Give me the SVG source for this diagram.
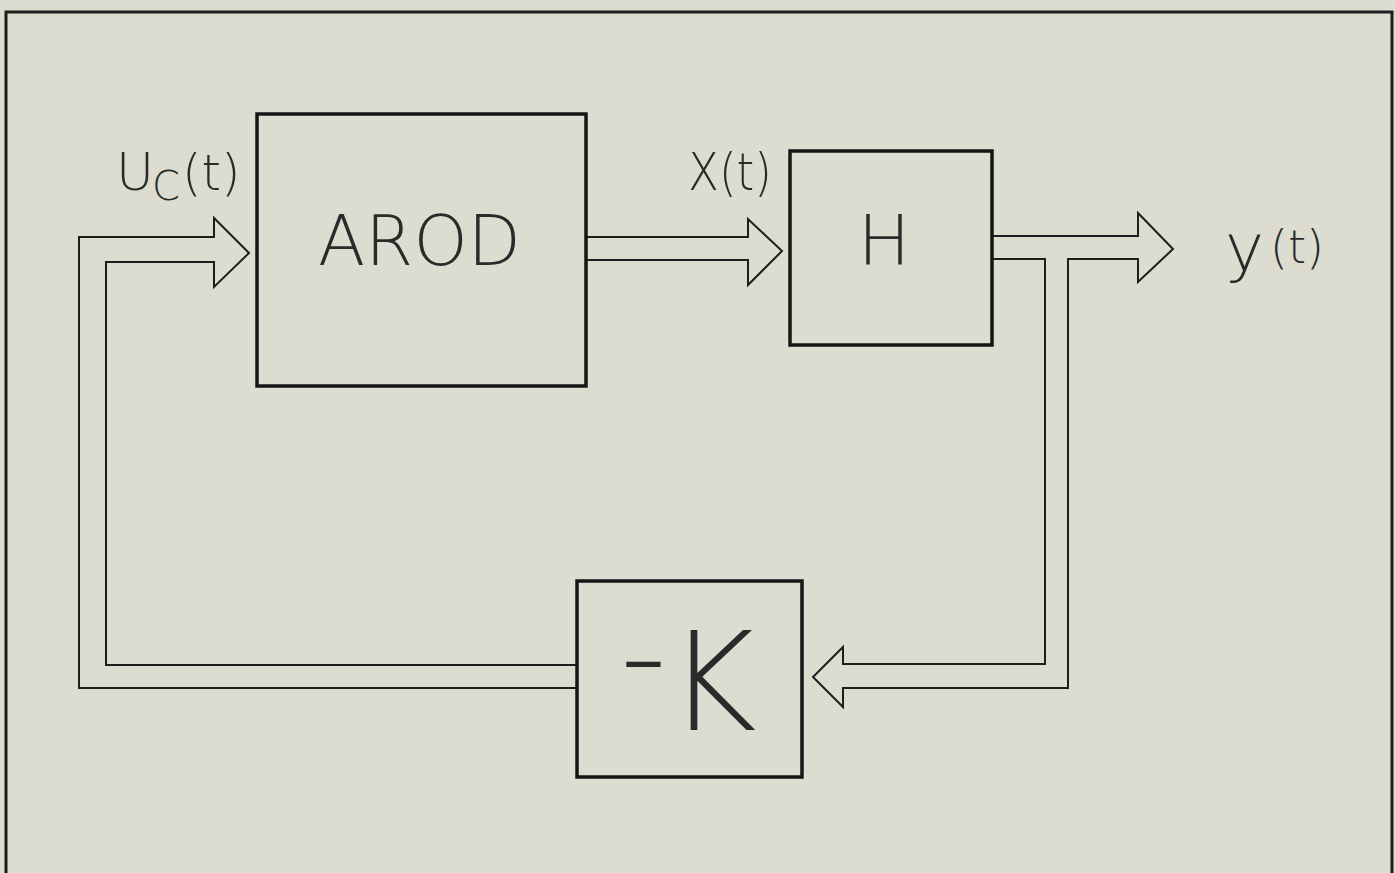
<svg xmlns="http://www.w3.org/2000/svg" width="1395" height="873" viewBox="0 0 1395 873">
<style>
.bg{fill:#dcdcd0}
.frame{fill:none;stroke:#1e1e1e;stroke-width:3}
.box{fill:none;stroke:#151515;stroke-width:3.5}
.wire{fill:none;stroke:#1e1e1e;stroke-width:2;stroke-linejoin:miter}
.lbl{font-family:"DejaVu Sans","Liberation Sans",sans-serif;font-weight:200;fill:#2a2a2a}
</style>
<rect class="bg" x="0" y="0" width="1395" height="873"/>
<path class="frame" d="M6,873 V12 H1392 V873"/>

<g id="connectors">
  <!-- feedback -K to AROD input -->
  <path class="wire" d="M578,688 H79 V237 H214 V218 L249,253 L214,287 V262 H106 V665 H578"/>
  <!-- AROD to H -->
  <path class="wire" d="M586,237 H748 V219 L782,251 L748,285 V260 H586"/>
  <!-- H output y(t) with branch to -K -->
  <path class="wire" d="M992,236 H1138 V213 L1173,249 L1138,282 V259 H1068 V688 H843 V707 L813,677 L843,647 V664 H1045 V259 H992"/>
</g>

<g id="arod">
  <rect class="box" x="257" y="114" width="329" height="272"/>
  <text class="lbl" x="318" y="265" font-size="69" textLength="203" lengthAdjust="spacing">AROD</text>
</g>

<g id="h">
  <rect class="box" x="790" y="151" width="202" height="194"/>
  <text class="lbl" x="884" y="265" font-size="70" text-anchor="middle">H</text>
</g>

<g id="negk">
  <rect class="box" x="577" y="581" width="225" height="196"/>
  <text class="lbl"><tspan x="620" y="700" font-size="130">-</tspan><tspan x="667" y="730" font-size="137">K</tspan></text>
</g>

<g id="labels">
  <text class="lbl"><tspan x="116" y="190" font-size="52">U</tspan><tspan x="152" y="200" font-size="40">C</tspan><tspan x="182" y="190" font-size="50">(t)</tspan></text>
  <text class="lbl" x="688" y="190" font-size="52" textLength="84" lengthAdjust="spacingAndGlyphs">X(t)</text>
  <text class="lbl"><tspan x="1225" y="271" font-size="66">y</tspan><tspan x="1270" y="263" font-size="46">(t)</tspan></text>
</g>
</svg>
